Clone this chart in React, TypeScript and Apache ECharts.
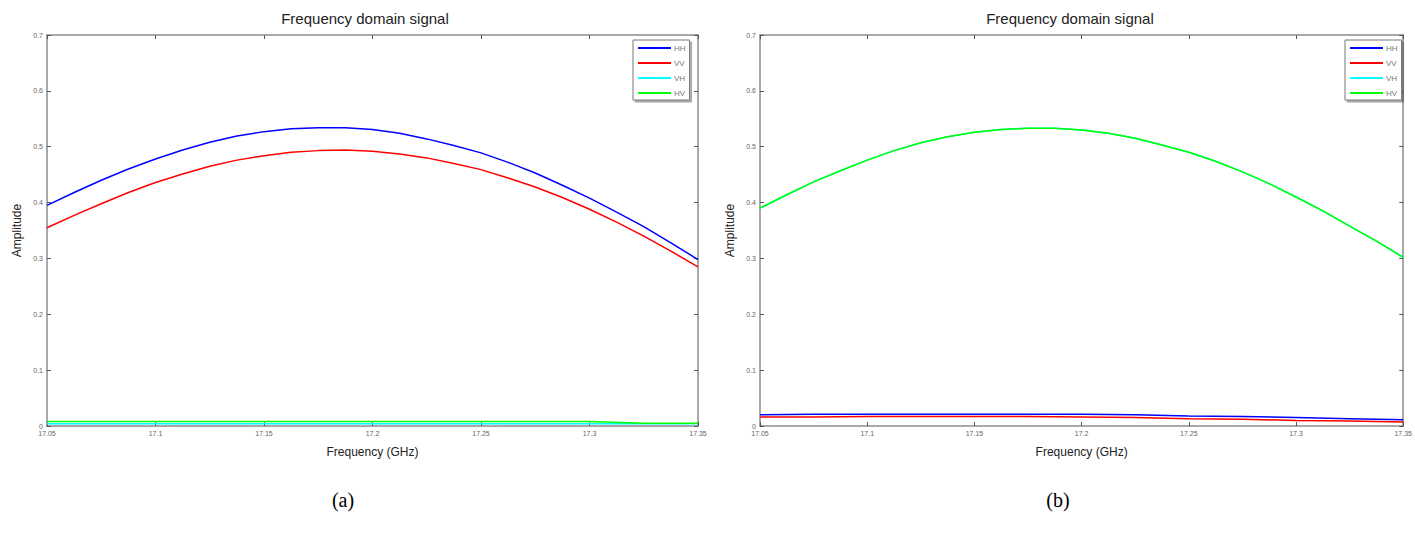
import React, { useEffect, useRef } from "react";
import * as echarts from "echarts";

const freqsFine = [
  17.05, 17.0625, 17.075, 17.0875, 17.1, 17.1125, 17.125, 17.1375, 17.15, 17.1625, 17.175, 17.1875, 17.2,
  17.2125, 17.225, 17.2375, 17.25, 17.2625, 17.275, 17.2875, 17.3, 17.3125, 17.325, 17.3375, 17.35,
];
const freqsCoarse = [17.05, 17.075, 17.1, 17.125, 17.15, 17.175, 17.2, 17.225, 17.25, 17.275, 17.3, 17.325, 17.35];
const xTicks = [17.05, 17.1, 17.15, 17.2, 17.25, 17.3, 17.35];
const yTicks = [0, 0.1, 0.2, 0.3, 0.4, 0.5, 0.6, 0.7];
const seriesNames = ["HH", "VV", "VH", "HV"];
const seriesColors = ["#0000ff", "#ff0000", "#00ffff", "#00ff00"];

// (a) – fine grid
const aHH = [
  0.395, 0.418, 0.44, 0.46, 0.478, 0.494, 0.508, 0.519, 0.527, 0.532, 0.534, 0.534, 0.531,
  0.524, 0.514, 0.502, 0.489, 0.472, 0.453, 0.431, 0.408, 0.383, 0.357, 0.328, 0.298,
];
const aVV = [
  0.355, 0.377, 0.398, 0.418, 0.436, 0.451, 0.465, 0.476, 0.484, 0.49, 0.493, 0.494, 0.492,
  0.487, 0.48, 0.47, 0.459, 0.444, 0.428, 0.409, 0.388, 0.365, 0.34, 0.313, 0.285,
];
// (a) – coarse grid
const aVH = [0.004, 0.004, 0.004, 0.004, 0.004, 0.004, 0.004, 0.004, 0.004, 0.004, 0.004, 0.004, 0.004];
const aHV = [0.008, 0.008, 0.008, 0.008, 0.008, 0.008, 0.008, 0.008, 0.008, 0.008, 0.008, 0.005, 0.005];

// (b) – coarse grid
const bHH = [0.02, 0.021, 0.021, 0.021, 0.021, 0.021, 0.021, 0.02, 0.018, 0.017, 0.015, 0.013, 0.011];
const bVV = [0.016, 0.016, 0.017, 0.017, 0.017, 0.017, 0.016, 0.015, 0.013, 0.012, 0.01, 0.009, 0.007];
// (b) – fine grid
const bVH = [
  0.39, 0.414, 0.437, 0.457, 0.476, 0.493, 0.507, 0.518, 0.526, 0.531, 0.533, 0.533, 0.53,
  0.524, 0.515, 0.503, 0.49, 0.474, 0.455, 0.434, 0.41, 0.385, 0.358, 0.331, 0.302,
];
const bHV = [
  0.39, 0.414, 0.437, 0.457, 0.476, 0.493, 0.507, 0.518, 0.526, 0.531, 0.533, 0.533, 0.53,
  0.524, 0.515, 0.503, 0.49, 0.474, 0.455, 0.434, 0.41, 0.385, 0.358, 0.331, 0.302,
];

const titleText = "Frequency domain signal";
const xName = "Frequency (GHz)";
const yName = "Amplitude";
const captions = ["(a)", "(b)"];

const FONT = "'Liberation Sans', Arial, Helvetica, sans-serif";
const AXIS_COLOR = "#8c8c8c";
const LABEL_COLOR = "#666666";

export default function App() {
  const ref = useRef<HTMLDivElement>(null);
  useEffect(() => {
    document.body.style.margin = "0";
    if (!ref.current) return;
    const chart = echarts.init(ref.current, undefined, { renderer: "svg" });

    const grids = [
      { left: 47, top: 35, width: 651, height: 391 },
      { left: 760, top: 35, width: 650, height: 391 },
    ];
    const fmtX = (v: number) => String(+v.toFixed(2));
    const fmtY = (v: number) => String(+v.toFixed(1));

    const xAxes: any[] = [];
    const yAxes: any[] = [];
    grids.forEach((_, gi) => {
      const base = {
        type: "value",
        gridIndex: gi,
        min: xTicks[0],
        max: xTicks[xTicks.length - 1],
        interval: 0.05,
        splitLine: { show: false },
        axisLine: { show: true, onZero: false, lineStyle: { color: AXIS_COLOR, width: 1.5 } },
        axisTick: { show: true, inside: true, length: 4, lineStyle: { color: "#555" } },
      };
      xAxes.push({
        ...base,
        position: "bottom",
        name: xName,
        nameLocation: "middle",
        nameGap: 20,
        nameTextStyle: { fontFamily: FONT, fontSize: 12, color: "#222" },
        axisLabel: { show: true, fontFamily: FONT, fontSize: 7, color: LABEL_COLOR, margin: 4, formatter: fmtX },
      });
      xAxes.push({ ...base, position: "top", axisLabel: { show: false } });
      const ybase = {
        type: "value",
        gridIndex: gi,
        min: yTicks[0],
        max: yTicks[yTicks.length - 1],
        interval: 0.1,
        splitLine: { show: false },
        axisLine: { show: true, onZero: false, lineStyle: { color: AXIS_COLOR, width: 1.5 } },
        axisTick: { show: true, inside: true, length: 4, lineStyle: { color: "#555" } },
      };
      yAxes.push({
        ...ybase,
        position: "left",
        name: yName,
        nameLocation: "middle",
        nameGap: 24,
        nameTextStyle: { fontFamily: FONT, fontSize: 12, color: "#222" },
        axisLabel: { show: true, fontFamily: FONT, fontSize: 7, color: LABEL_COLOR, margin: 4, formatter: fmtY },
      });
      yAxes.push({ ...ybase, position: "right", axisLabel: { show: false } });
    });

    const dataSets = [
      [
        [freqsFine, aHH],
        [freqsFine, aVV],
        [freqsCoarse, aVH],
        [freqsCoarse, aHV],
      ],
      [
        [freqsCoarse, bHH],
        [freqsCoarse, bVV],
        [freqsFine, bVH],
        [freqsFine, bHV],
      ],
    ];
    const series: any[] = [];
    dataSets.forEach((set, gi) => {
      set.forEach(([xs, vals], si) => {
        series.push({
          type: "line",
          name: seriesNames[si],
          xAxisIndex: gi * 2,
          yAxisIndex: gi * 2,
          data: xs.map((f, i) => [f, vals[i]]),
          showSymbol: false,
          smooth: false,
          lineStyle: { color: seriesColors[si], width: 1.5 },
          itemStyle: { color: seriesColors[si] },
          z: 2 + si,
        });
      });
    });

    const legendBase = {
      orient: "vertical",
      top: 40,
      data: seriesNames,
      icon: "rect",
      itemWidth: 33,
      itemHeight: 2,
      itemGap: 7,
      padding: [4, 4, 3, 5],
      backgroundColor: "#fff",
      borderColor: "#777",
      borderWidth: 1,
      shadowColor: "rgba(0,0,0,0.35)",
      shadowOffsetX: 2,
      shadowOffsetY: 2,
      shadowBlur: 0,
      selectedMode: false,
      textStyle: { fontFamily: FONT, fontSize: 8, color: "#777", padding: [0, 0, 0, -2] },
    };

    chart.setOption({
      animation: false,
      backgroundColor: "#fff",
      grid: grids.map((g) => ({ ...g, containLabel: false })),
      xAxis: xAxes,
      yAxis: yAxes,
      legend: [
        { ...legendBase, left: 633 },
        { ...legendBase, left: 1345 },
      ],
      series,
      graphic: [
        { type: "text", x: 365, y: 18, style: { text: titleText, font: `15px ${FONT}`, fill: "#222", textAlign: "center", textVerticalAlign: "middle" } },
        { type: "text", x: 1070, y: 18, style: { text: titleText, font: `15px ${FONT}`, fill: "#222", textAlign: "center", textVerticalAlign: "middle" } },
        { type: "text", x: 343, y: 500, style: { text: captions[0], font: `20px 'Liberation Serif', 'Times New Roman', serif`, fill: "#000", textAlign: "center", textVerticalAlign: "middle" } },
        { type: "text", x: 1058, y: 500, style: { text: captions[1], font: `20px 'Liberation Serif', 'Times New Roman', serif`, fill: "#000", textAlign: "center", textVerticalAlign: "middle" } },
      ],
    });
    return () => chart.dispose();
  }, []);
  return <div ref={ref} style={{ width: 1415, height: 539 }} />;
}
